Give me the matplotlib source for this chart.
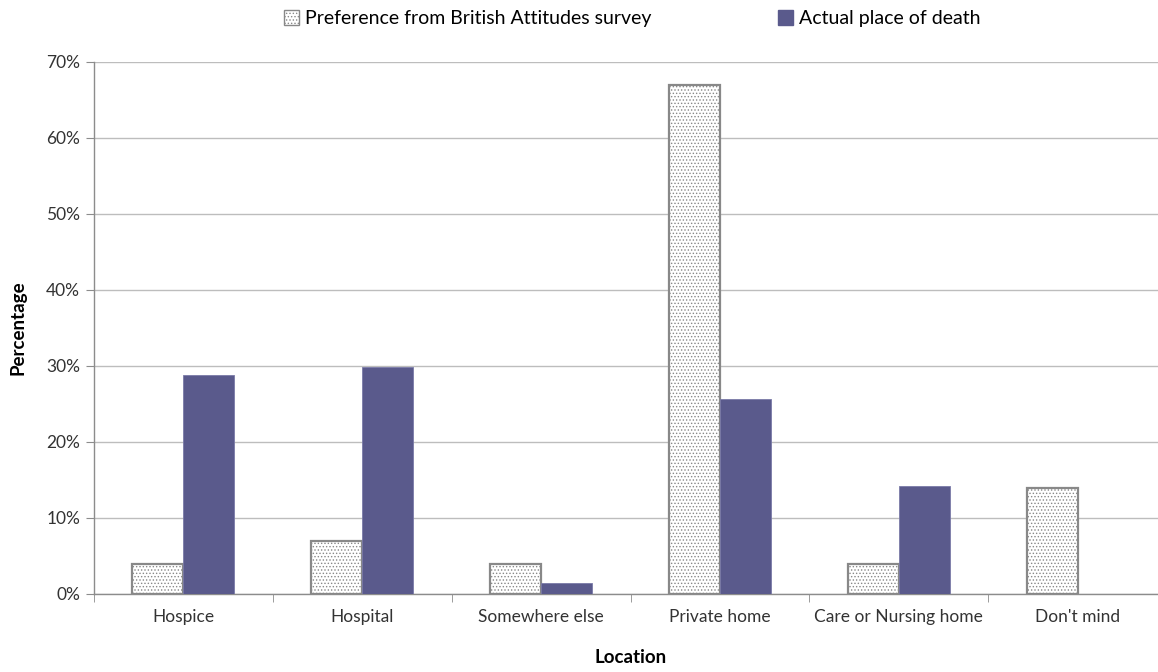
import numpy as np
import matplotlib.pyplot as plt
from matplotlib.patches import Patch
from matplotlib.ticker import PercentFormatter

plt.rcParams['font.family'] = ['Lato', 'DejaVu Sans']
plt.rcParams['hatch.linewidth'] = 0.6

locations = ["Hospice", "Hospital", "Somewhere else", "Private home",
             "Care or Nursing home", "Don't mind"]
preference = [4.0, 7.0, 4.0, 67.0, 4.0, 14.0]
actual = [28.8, 29.9, 1.4, 25.6, 14.2, 0.0]

pref_label = "Preference from British Attitudes survey"
actual_label = "Actual place of death"

fig = plt.figure(figsize=(11.58, 6.72), dpi=100)
ax = fig.add_axes([94 / 1158, 1 - 594 / 672, 1073 / 1158, 532 / 672])

x = np.arange(len(locations))
w = 0.285
grey = "#888888"
purple = "#5a5a8c"

plt.rcParams['hatch.color'] = "#b0b0b0"
ax.bar(x - w / 2, preference, w, color="white", edgecolor=grey,
       linewidth=1.6, hatch=".....", zorder=3)
ax.bar(x + w / 2, actual, w, color=purple, edgecolor="#7a7aa8",
       linewidth=0.6, zorder=3)

ax.set_xlim(-0.5, len(locations) - 0.5)
ax.set_ylim(0, 70)
ax.set_yticks(np.arange(0, 71, 10))
ax.yaxis.set_major_formatter(PercentFormatter(decimals=0))
ax.set_xticks(x)
ax.set_xticklabels(locations)
ax.set_xticks(np.arange(-0.5, len(locations) - 0.4, 1), minor=True)

ax.grid(axis="y", color="#bdbdbd", linewidth=1.0, zorder=0)
for s in ["top", "right"]:
    ax.spines[s].set_visible(False)
for s in ["left", "bottom"]:
    ax.spines[s].set_color("#8c8c8c")
    ax.spines[s].set_linewidth(1.0)

ax.tick_params(axis="y", length=6, color="#8c8c8c", labelsize=12.5,
               labelcolor="#333333", pad=4)
ax.tick_params(axis="x", which="major", length=0, labelsize=12.5,
               labelcolor="#333333", pad=11)
ax.tick_params(axis="x", which="minor", length=6, color="#8c8c8c")

ax.set_ylabel("Percentage", fontsize=13.5, fontweight="bold", labelpad=14)
ax.set_xlabel("Location", fontsize=13.5, fontweight="bold", labelpad=17)

handles = [
    Patch(facecolor="white", edgecolor=grey, hatch=".....", linewidth=1.0,
          label=pref_label),
    Patch(facecolor=purple, edgecolor=purple, label=actual_label),
]
fig.legend(handles=handles, loc="center", bbox_to_anchor=(0.546, 0.972),
           ncol=2, frameon=False, fontsize=14, handlelength=0.8,
           handleheight=0.8, handletextpad=0.3, columnspacing=6.5)

fig.savefig("out.png", dpi=100)
